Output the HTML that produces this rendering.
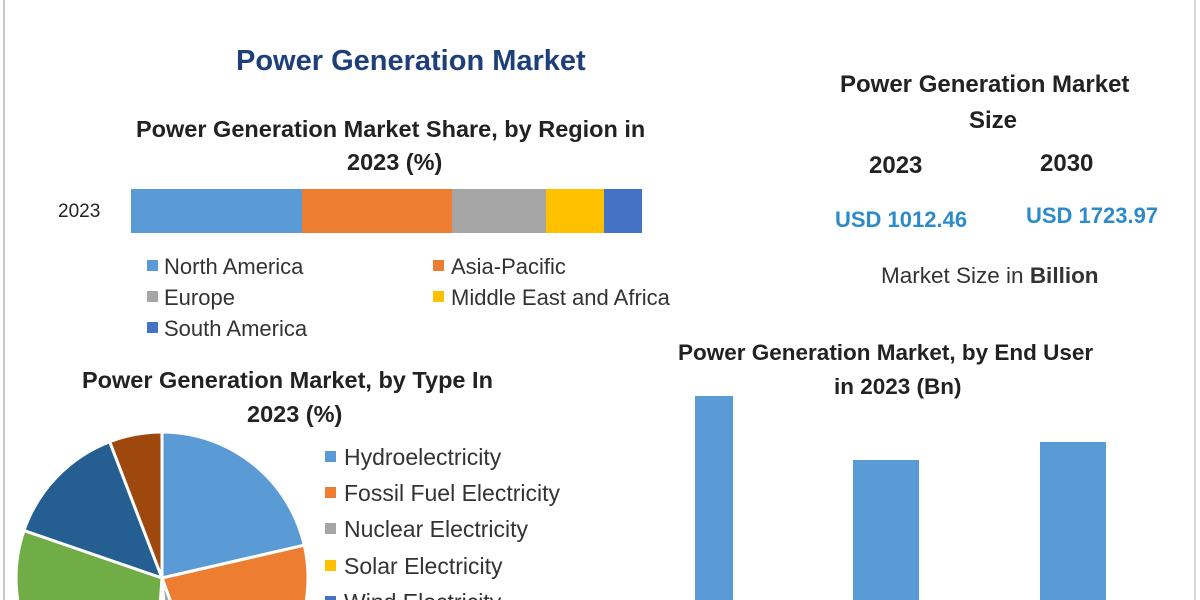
<!DOCTYPE html>
<html><head><style>
html,body{margin:0;padding:0;width:1200px;height:600px;overflow:hidden;background:#fff}
#w{position:relative;width:1200px;height:600px;overflow:hidden;font-family:"Liberation Sans",sans-serif}
.t{position:absolute;white-space:nowrap;line-height:1}
.b{font-weight:bold;color:#222}
.sw{position:absolute;width:11px;height:11px}
</style></head><body><div id="w">
<div style="position:absolute;left:3px;top:0;width:2px;height:600px;background:#c8c8c8"></div>
<div style="position:absolute;left:1194px;top:0;width:2px;height:600px;background:#d8d8d8"></div>
<div class="t" style="left:236px;top:47px;font-size:29px;font-weight:bold;color:#1f3f7a">Power Generation Market</div>
<div class="t b" style="left:136px;top:118px;font-size:23.5px">Power Generation Market Share, by Region in</div>
<div class="t b" style="left:347px;top:151px;font-size:23.5px">2023 (%)</div>
<div class="t" style="left:58px;top:202px;font-size:19px;color:#222">2023</div>
<div style="position:absolute;top:189px;height:44px;left:131px;width:171px;background:#5b9bd5"></div>
<div style="position:absolute;top:189px;height:44px;left:302px;width:150px;background:#ed7d31"></div>
<div style="position:absolute;top:189px;height:44px;left:452px;width:94px;background:#a5a5a5"></div>
<div style="position:absolute;top:189px;height:44px;left:546px;width:58px;background:#ffc000"></div>
<div style="position:absolute;top:189px;height:44px;left:604px;width:38px;background:#4472c4"></div>
<div class="sw" style="left:147px;top:260px;background:#5b9bd5"></div><div class="t" style="left:164px;top:256px;font-size:22px;color:#333">North America</div>
<div class="sw" style="left:433px;top:260px;background:#ed7d31"></div><div class="t" style="left:451px;top:256px;font-size:22px;color:#333">Asia-Pacific</div>
<div class="sw" style="left:147px;top:291px;background:#a5a5a5"></div><div class="t" style="left:164px;top:287px;font-size:22px;color:#333">Europe</div>
<div class="sw" style="left:433px;top:291px;background:#ffc000"></div><div class="t" style="left:451px;top:287px;font-size:22px;color:#333">Middle East and Africa</div>
<div class="sw" style="left:147px;top:322px;background:#4472c4"></div><div class="t" style="left:164px;top:318px;font-size:22px;color:#333">South America</div>

<div class="t b" style="left:840px;top:73px;font-size:24px">Power Generation Market</div>
<div class="t b" style="left:969px;top:109px;font-size:24px">Size</div>
<div class="t b" style="left:869px;top:154px;font-size:24px">2023</div>
<div class="t b" style="left:1040px;top:152px;font-size:24px">2030</div>
<div class="t" style="left:835px;top:209px;font-size:22px;font-weight:bold;color:#2e8bc9">USD 1012.46</div>
<div class="t" style="left:1026px;top:205px;font-size:22px;font-weight:bold;color:#2e8bc9">USD 1723.97</div>
<div class="t" style="left:881px;top:265px;font-size:22.5px;color:#333">Market Size in <b>Billion</b></div>

<div class="t b" style="left:678px;top:342px;font-size:22.5px">Power Generation Market, by End User</div>
<div class="t b" style="left:834px;top:376px;font-size:22.5px">in 2023 (Bn)</div>
<div style="position:absolute;left:695px;top:396px;width:38px;height:204px;background:#5b9bd5"></div>
<div style="position:absolute;left:853px;top:460px;width:66px;height:140px;background:#5b9bd5"></div>
<div style="position:absolute;left:1040px;top:442px;width:66px;height:158px;background:#5b9bd5"></div>

<div class="t b" style="left:82px;top:369px;font-size:23.5px">Power Generation Market, by Type In</div>
<div class="t b" style="left:247px;top:403px;font-size:23.5px">2023 (%)</div>
<svg style="position:absolute;left:0;top:0" width="1200" height="600">
<g stroke="#fff" stroke-width="3" transform="translate(162,578)">
<path d="M0,0 L0,-146 A146,146 0 0 1 142.3,-32.8 Z" fill="#5b9bd5"/>
<path d="M0,0 L142.3,-32.8 A146,146 0 0 1 50,137 Z" fill="#ed7d31"/>
<path d="M0,0 L50,137 A146,146 0 0 1 10,145.6 Z" fill="#a5a5a5"/>
<path d="M0,0 L10,145.6 A146,146 0 0 1 -10,145.6 Z" fill="#ffc000"/>
<path d="M0,0 L-10,145.6 A146,146 0 0 1 -138,-47.5 Z" fill="#70ad47"/>
<path d="M0,0 L-138,-47.5 A146,146 0 0 1 -52.3,-136.3 Z" fill="#255e91"/>
<path d="M0,0 L-52.3,-136.3 A146,146 0 0 1 0,-146 Z" fill="#9e480e"/>
</g>
</svg>
<div class="sw" style="left:325px;top:451px;background:#5b9bd5"></div><div class="t" style="left:344px;top:446px;font-size:23px;color:#333">Hydroelectricity</div>
<div class="sw" style="left:325px;top:487px;background:#ed7d31"></div><div class="t" style="left:344px;top:482px;font-size:23px;color:#333">Fossil Fuel Electricity</div>
<div class="sw" style="left:325px;top:523px;background:#a5a5a5"></div><div class="t" style="left:344px;top:518px;font-size:23px;color:#333">Nuclear Electricity</div>
<div class="sw" style="left:325px;top:560px;background:#ffc000"></div><div class="t" style="left:344px;top:555px;font-size:23px;color:#333">Solar Electricity</div>
<div class="sw" style="left:325px;top:596px;background:#4472c4;height:4px"></div><div class="t" style="left:344px;top:591px;height:9px;overflow:hidden;font-size:23px;color:#333">Wind Electricity</div>
</div></body></html>
